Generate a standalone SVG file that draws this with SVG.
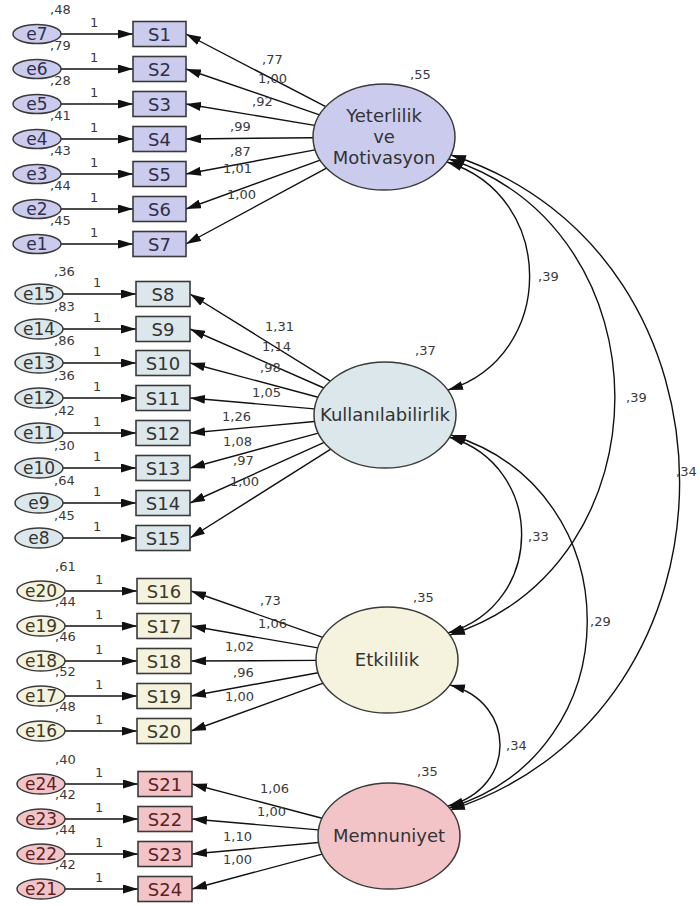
<svg xmlns="http://www.w3.org/2000/svg" width="700" height="906" viewBox="0 0 700 906">
<style>
text{font-family:"DejaVu Sans","Liberation Sans",sans-serif;}
.n{font-size:13px;fill:#3a3a3a;}
.bl{font-size:18px;text-anchor:middle;}
.el{font-size:17px;text-anchor:middle;}
.lt{font-size:18px;text-anchor:middle;fill:#333;}
.box{stroke:#3a3a3a;stroke-width:1.6;}
.err{stroke:#3a3a3a;stroke-width:1.5;}
.lat{stroke:#3a3a3a;stroke-width:1.5;}
.g1{fill:#cacbed;} .g2{fill:#dbe7ea;} .g3{fill:#f5f3dd;} .g4{fill:#f3c4c7;}
.t1{fill:#2f2f4a;} .t2{fill:#333;} .t3{fill:#3a3a2a;} .t4{fill:#5a2226;}
.ln{stroke:#111;stroke-width:1.4;fill:none;marker-end:url(#ah);}
.cv{stroke:#111;stroke-width:1.4;fill:none;marker-start:url(#ah);marker-end:url(#ah);}
</style>
<defs>
<marker id="ah" viewBox="0 0 15 9" refX="15" refY="4.5" markerWidth="15" markerHeight="9" markerUnits="userSpaceOnUse" orient="auto-start-reverse"><path d="M0,0 L15,4.5 L0,9 z" fill="#111"/></marker>
</defs>
<rect width="700" height="906" fill="#fff"/>

<g id="connectors">
<line class="ln" x1="61" y1="34" x2="133" y2="34"/>
<line class="ln" x1="61" y1="69" x2="133" y2="69"/>
<line class="ln" x1="61" y1="104" x2="133" y2="104"/>
<line class="ln" x1="61" y1="139" x2="133" y2="139"/>
<line class="ln" x1="61" y1="174" x2="133" y2="174"/>
<line class="ln" x1="61" y1="209" x2="133" y2="209"/>
<line class="ln" x1="61" y1="244" x2="133" y2="244"/>
<line class="ln" x1="63" y1="294" x2="136" y2="294"/>
<line class="ln" x1="63" y1="329" x2="136" y2="329"/>
<line class="ln" x1="63" y1="363" x2="136" y2="363"/>
<line class="ln" x1="63" y1="398" x2="136" y2="398"/>
<line class="ln" x1="63" y1="433" x2="136" y2="433"/>
<line class="ln" x1="63" y1="468" x2="136" y2="468"/>
<line class="ln" x1="63" y1="503" x2="136" y2="503"/>
<line class="ln" x1="63" y1="538" x2="136" y2="538"/>
<line class="ln" x1="65" y1="591" x2="137" y2="591"/>
<line class="ln" x1="65" y1="626" x2="137" y2="626"/>
<line class="ln" x1="65" y1="661" x2="137" y2="661"/>
<line class="ln" x1="65" y1="696" x2="137" y2="696"/>
<line class="ln" x1="65" y1="731" x2="137" y2="731"/>
<line class="ln" x1="65" y1="784" x2="138" y2="784"/>
<line class="ln" x1="65" y1="819" x2="138" y2="819"/>
<line class="ln" x1="65" y1="854" x2="138" y2="854"/>
<line class="ln" x1="65" y1="889" x2="138" y2="889"/>
<line class="ln" x1="325.7" y1="106.7" x2="186" y2="34"/>
<line class="ln" x1="319.5" y1="114.8" x2="186" y2="69"/>
<line class="ln" x1="314.7" y1="125.4" x2="186" y2="104"/>
<line class="ln" x1="313" y1="137.7" x2="186" y2="139"/>
<line class="ln" x1="315.1" y1="149.9" x2="186" y2="174"/>
<line class="ln" x1="320.2" y1="160.2" x2="186" y2="209"/>
<line class="ln" x1="326.5" y1="168.1" x2="186" y2="244"/>
<line class="ln" x1="330.4" y1="381.1" x2="190" y2="294"/>
<line class="ln" x1="323.9" y1="388" x2="190" y2="329"/>
<line class="ln" x1="318.1" y1="397.2" x2="190" y2="363"/>
<line class="ln" x1="314.5" y1="408.9" x2="190" y2="398"/>
<line class="ln" x1="314.5" y1="421.5" x2="190" y2="433"/>
<line class="ln" x1="318.3" y1="433.1" x2="190" y2="468"/>
<line class="ln" x1="324.2" y1="442.4" x2="190" y2="503"/>
<line class="ln" x1="330.8" y1="449.2" x2="190" y2="538"/>
<line class="ln" x1="322.8" y1="637.3" x2="191" y2="591"/>
<line class="ln" x1="317.9" y1="647.9" x2="191" y2="626"/>
<line class="ln" x1="316" y1="660.4" x2="191" y2="661"/>
<line class="ln" x1="318.1" y1="672.7" x2="191" y2="696"/>
<line class="ln" x1="323.2" y1="683.2" x2="191" y2="731"/>
<line class="ln" x1="322.1" y1="818.3" x2="192" y2="784"/>
<line class="ln" x1="318.5" y1="829.9" x2="192" y2="819"/>
<line class="ln" x1="318.5" y1="842.5" x2="192" y2="854"/>
<line class="ln" x1="322.2" y1="854.1" x2="192" y2="889"/>
<path class="cv" d="M447,162 C557,196 557,356 448,390"/>
<path class="cv" d="M449,159 C670,230 670,564 450,635"/>
<path class="cv" d="M451,155 C756,253 756,712 450,810"/>
<path class="cv" d="M449,437 C546,466 546,604 448,633"/>
<path class="cv" d="M451,435 C633,491 633,752 449,808"/>
<path class="cv" d="M450,685 C517,703 517,788 448,806"/>
</g>

<g id="labels">
<text class="n" x="90" y="27">1</text><text class="n" x="90" y="62">1</text><text class="n" x="90" y="97">1</text><text class="n" x="90" y="132">1</text><text class="n" x="90" y="167">1</text><text class="n" x="90" y="202">1</text><text class="n" x="90" y="237">1</text>
<text class="n" x="93" y="287">1</text><text class="n" x="93" y="322">1</text><text class="n" x="93" y="356">1</text><text class="n" x="93" y="391">1</text><text class="n" x="93" y="426">1</text><text class="n" x="93" y="461">1</text><text class="n" x="93" y="496">1</text><text class="n" x="93" y="531">1</text>
<text class="n" x="95" y="584">1</text><text class="n" x="95" y="619">1</text><text class="n" x="95" y="654">1</text><text class="n" x="95" y="689">1</text><text class="n" x="95" y="724">1</text>
<text class="n" x="95" y="777">1</text><text class="n" x="95" y="812">1</text><text class="n" x="95" y="847">1</text><text class="n" x="95" y="882">1</text>
<text class="n" x="50" y="14">,48</text><text class="n" x="50" y="50">,79</text><text class="n" x="50" y="85">,28</text><text class="n" x="50" y="120">,41</text><text class="n" x="50" y="155">,43</text><text class="n" x="50" y="190">,44</text><text class="n" x="50" y="225">,45</text>
<text class="n" x="54" y="276">,36</text><text class="n" x="54" y="311">,83</text><text class="n" x="54" y="345">,86</text><text class="n" x="54" y="380">,36</text><text class="n" x="54" y="415">,42</text><text class="n" x="54" y="450">,30</text><text class="n" x="54" y="485">,64</text><text class="n" x="54" y="520">,45</text>
<text class="n" x="55" y="571">,61</text><text class="n" x="55" y="606">,44</text><text class="n" x="55" y="641">,46</text><text class="n" x="55" y="676">,52</text><text class="n" x="55" y="711">,48</text>
<text class="n" x="55" y="764">,40</text><text class="n" x="55" y="799">,42</text><text class="n" x="55" y="834">,44</text><text class="n" x="55" y="869">,42</text>
<text class="n" x="262" y="64">,77</text><text class="n" x="258" y="83">1,00</text><text class="n" x="252" y="106">,92</text><text class="n" x="230" y="131">,99</text><text class="n" x="230" y="156">,87</text><text class="n" x="223" y="173">1,01</text><text class="n" x="227" y="199">1,00</text>
<text class="n" x="265" y="331">1,31</text><text class="n" x="262" y="351">1,14</text><text class="n" x="260" y="372">,98</text><text class="n" x="252" y="397">1,05</text><text class="n" x="222" y="421">1,26</text><text class="n" x="223" y="446">1,08</text><text class="n" x="233" y="465">,97</text><text class="n" x="230" y="486">1,00</text>
<text class="n" x="260" y="605">,73</text><text class="n" x="258" y="628">1,06</text><text class="n" x="225" y="651">1,02</text><text class="n" x="233" y="677">,96</text><text class="n" x="225" y="701">1,00</text>
<text class="n" x="260" y="793">1,06</text><text class="n" x="257" y="816">1,00</text><text class="n" x="223" y="841">1,10</text><text class="n" x="223" y="864">1,00</text>
<text class="n" x="410" y="79">,55</text><text class="n" x="415" y="355">,37</text><text class="n" x="413" y="602">,35</text><text class="n" x="417" y="776">,35</text>
<text class="n" x="538" y="281">,39</text><text class="n" x="626" y="402">,39</text><text class="n" x="676" y="476">,34</text><text class="n" x="528" y="541">,33</text><text class="n" x="590" y="626">,29</text><text class="n" x="506" y="750">,34</text>
</g>

<g id="e7"><ellipse class="err g1" cx="37" cy="34" rx="24" ry="9.5"/><text class="el t1" x="37" y="40">e7</text></g>
<g id="e6"><ellipse class="err g1" cx="37" cy="69" rx="24" ry="9.5"/><text class="el t1" x="37" y="75">e6</text></g>
<g id="e5"><ellipse class="err g1" cx="37" cy="104" rx="24" ry="9.5"/><text class="el t1" x="37" y="110">e5</text></g>
<g id="e4"><ellipse class="err g1" cx="37" cy="139" rx="24" ry="9.5"/><text class="el t1" x="37" y="145">e4</text></g>
<g id="e3"><ellipse class="err g1" cx="37" cy="174" rx="24" ry="9.5"/><text class="el t1" x="37" y="180">e3</text></g>
<g id="e2"><ellipse class="err g1" cx="37" cy="209" rx="24" ry="9.5"/><text class="el t1" x="37" y="215">e2</text></g>
<g id="e1"><ellipse class="err g1" cx="37" cy="244" rx="24" ry="9.5"/><text class="el t1" x="37" y="250">e1</text></g>
<g id="e15"><ellipse class="err g2" cx="39" cy="294" rx="24" ry="10"/><text class="el t2" x="39" y="300">e15</text></g>
<g id="e14"><ellipse class="err g2" cx="39" cy="329" rx="24" ry="10"/><text class="el t2" x="39" y="335">e14</text></g>
<g id="e13"><ellipse class="err g2" cx="39" cy="363" rx="24" ry="10"/><text class="el t2" x="39" y="369">e13</text></g>
<g id="e12"><ellipse class="err g2" cx="39" cy="398" rx="24" ry="10"/><text class="el t2" x="39" y="404">e12</text></g>
<g id="e11"><ellipse class="err g2" cx="39" cy="433" rx="24" ry="10"/><text class="el t2" x="39" y="439">e11</text></g>
<g id="e10"><ellipse class="err g2" cx="39" cy="468" rx="24" ry="10"/><text class="el t2" x="39" y="474">e10</text></g>
<g id="e9"><ellipse class="err g2" cx="39" cy="503" rx="24" ry="10"/><text class="el t2" x="39" y="509">e9</text></g>
<g id="e8"><ellipse class="err g2" cx="39" cy="538" rx="24" ry="10"/><text class="el t2" x="39" y="544">e8</text></g>
<g id="e20"><ellipse class="err g3" cx="41" cy="591" rx="24" ry="10"/><text class="el t3" x="41" y="597">e20</text></g>
<g id="e19"><ellipse class="err g3" cx="41" cy="626" rx="24" ry="10"/><text class="el t3" x="41" y="632">e19</text></g>
<g id="e18"><ellipse class="err g3" cx="41" cy="661" rx="24" ry="10"/><text class="el t3" x="41" y="667">e18</text></g>
<g id="e17"><ellipse class="err g3" cx="41" cy="696" rx="24" ry="10"/><text class="el t3" x="41" y="702">e17</text></g>
<g id="e16"><ellipse class="err g3" cx="41" cy="731" rx="24" ry="10"/><text class="el t3" x="41" y="737">e16</text></g>
<g id="e24"><ellipse class="err g4" cx="41" cy="784" rx="24" ry="10"/><text class="el t4" x="41" y="790">e24</text></g>
<g id="e23"><ellipse class="err g4" cx="41" cy="819" rx="24" ry="10"/><text class="el t4" x="41" y="825">e23</text></g>
<g id="e22"><ellipse class="err g4" cx="41" cy="854" rx="24" ry="10"/><text class="el t4" x="41" y="860">e22</text></g>
<g id="e21"><ellipse class="err g4" cx="41" cy="889" rx="24" ry="10"/><text class="el t4" x="41" y="895">e21</text></g>

<g id="S1"><rect class="box g1" x="133" y="21.5" width="53" height="25"/><text class="bl t1" x="159.5" y="40.5">S1</text></g>
<g id="S2"><rect class="box g1" x="133" y="56.5" width="53" height="25"/><text class="bl t1" x="159.5" y="75.5">S2</text></g>
<g id="S3"><rect class="box g1" x="133" y="91.5" width="53" height="25"/><text class="bl t1" x="159.5" y="110.5">S3</text></g>
<g id="S4"><rect class="box g1" x="133" y="126.5" width="53" height="25"/><text class="bl t1" x="159.5" y="145.5">S4</text></g>
<g id="S5"><rect class="box g1" x="133" y="161.5" width="53" height="25"/><text class="bl t1" x="159.5" y="180.5">S5</text></g>
<g id="S6"><rect class="box g1" x="133" y="196.5" width="53" height="25"/><text class="bl t1" x="159.5" y="215.5">S6</text></g>
<g id="S7"><rect class="box g1" x="133" y="231.5" width="53" height="25"/><text class="bl t1" x="159.5" y="250.5">S7</text></g>
<g id="S8"><rect class="box g2" x="136" y="281.5" width="54" height="25"/><text class="bl t2" x="163" y="300.5">S8</text></g>
<g id="S9"><rect class="box g2" x="136" y="316.5" width="54" height="25"/><text class="bl t2" x="163" y="335.5">S9</text></g>
<g id="S10"><rect class="box g2" x="136" y="350.5" width="54" height="25"/><text class="bl t2" x="163" y="369.5">S10</text></g>
<g id="S11"><rect class="box g2" x="136" y="385.5" width="54" height="25"/><text class="bl t2" x="163" y="404.5">S11</text></g>
<g id="S12"><rect class="box g2" x="136" y="420.5" width="54" height="25"/><text class="bl t2" x="163" y="439.5">S12</text></g>
<g id="S13"><rect class="box g2" x="136" y="455.5" width="54" height="25"/><text class="bl t2" x="163" y="474.5">S13</text></g>
<g id="S14"><rect class="box g2" x="136" y="490.5" width="54" height="25"/><text class="bl t2" x="163" y="509.5">S14</text></g>
<g id="S15"><rect class="box g2" x="136" y="525.5" width="54" height="25"/><text class="bl t2" x="163" y="544.5">S15</text></g>
<g id="S16"><rect class="box g3" x="137" y="578.5" width="54" height="25"/><text class="bl t3" x="164" y="597.5">S16</text></g>
<g id="S17"><rect class="box g3" x="137" y="613.5" width="54" height="25"/><text class="bl t3" x="164" y="632.5">S17</text></g>
<g id="S18"><rect class="box g3" x="137" y="648.5" width="54" height="25"/><text class="bl t3" x="164" y="667.5">S18</text></g>
<g id="S19"><rect class="box g3" x="137" y="683.5" width="54" height="25"/><text class="bl t3" x="164" y="702.5">S19</text></g>
<g id="S20"><rect class="box g3" x="137" y="718.5" width="54" height="25"/><text class="bl t3" x="164" y="737.5">S20</text></g>
<g id="S21"><rect class="box g4" x="138" y="771.5" width="54" height="25"/><text class="bl t4" x="165" y="790.5">S21</text></g>
<g id="S22"><rect class="box g4" x="138" y="806.5" width="54" height="25"/><text class="bl t4" x="165" y="825.5">S22</text></g>
<g id="S23"><rect class="box g4" x="138" y="841.5" width="54" height="25"/><text class="bl t4" x="165" y="860.5">S23</text></g>
<g id="S24"><rect class="box g4" x="138" y="876.5" width="54" height="25"/><text class="bl t4" x="165" y="895.5">S24</text></g>

<g id="Yeterlilik"><ellipse class="lat g1" cx="384" cy="137" rx="71" ry="53"/><text class="lt" x="384" y="122">Yeterlilik</text><text class="lt" x="384" y="143">ve</text><text class="lt" x="384" y="164">Motivasyon</text></g>
<g id="Kullanilabilirlik"><ellipse class="lat g2" cx="385" cy="415" rx="71" ry="53"/><text class="lt" x="385" y="421">Kullanılabilirlik</text></g>
<g id="Etkililik"><ellipse class="lat g3" cx="387" cy="660" rx="71" ry="53"/><text class="lt" x="387" y="666">Etkililik</text></g>
<g id="Memnuniyet"><ellipse class="lat g4" cx="389" cy="836" rx="71" ry="53"/><text class="lt" x="389" y="842">Memnuniyet</text></g>
</svg>
